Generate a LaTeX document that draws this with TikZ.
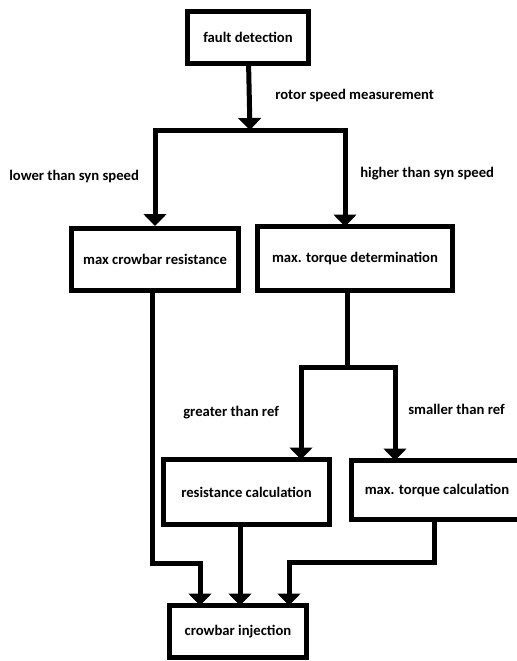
\documentclass[tikz,border=0pt]{standalone}
\usepackage{fontspec}
\setmainfont{Carlito}
\usetikzlibrary{arrows.meta}

\begin{document}
\begin{tikzpicture}
	[x=0.75pt, y=-0.75pt,
		containsText/.style  ={font=\fontsize{11}{13}\selectfont\bfseries
									},
		block/.style		={rectangle
									, containsText
									, draw
									, line width=3.75pt
									, align=center
									, inner sep=0pt
									},
		line/.style		 	={draw
									, line width=3.75pt
									},
		arrowline/.style	={line
									, -{Triangle[width=17pt,length=9pt]}
									},
		note/.style			={containsText
									, anchor=west
									, inner sep=0pt
									}
	]
\clip (0,0) rectangle (517,661);
	% boxes
	\node [block, minimum width=91pt, minimum height=39pt] (detect)		at (248,37.5)	{fault detection};
	\node [block, minimum width=125pt, minimum height=46.5pt] (maxres)	at (155,259.5)	{max crowbar resistance};
	\node [block, minimum width=146pt, minimum height=48pt] (torquedet)	at (355,258.5)	{max. torque determination};
	\node [block, minimum width=124.5pt, minimum height=49pt] (rescalc)	at (246.5,492)	{resistance calculation};
	\node [block, minimum width=128pt, minimum height=44pt] (torquecalc)	at (437,490)	{max. torque calculation};
	\node [block, minimum width=103pt, minimum height=39pt] (inject)	at (238,631.5)	{crowbar injection};

	% labels
	\node [note] (rotor label)		at (275,96)		{rotor speed measurement};
	\node [note] (lower label)		at (9,177)		{lower than syn speed};
	\node [note] (higher label)		at (360,174)	{higher than syn speed};
	\node [note] (greater label)	at (183,413)	{greater than ref};
	\node [note] (smaller label)	at (408,409)	{smaller than ref};

	% branch points
	\coordinate (rotor)		at (250,130);
	\coordinate (tdin)		at (345,226.5);
	\coordinate (tdout)		at (347,290.5);
	\coordinate (compare)	at (347,367);
	\coordinate (rcin)		at (301,459.5);
	\coordinate (tcin)		at (395,460.5);
	\coordinate (mrout)		at (152,290.5);
	\coordinate (rcout)		at (240,524.5);
	\coordinate (tcout)		at (434,519.5);
	\coordinate (in a)		at (200,605.5);
	\coordinate (in b)		at (240,605.5);
	\coordinate (in c)		at (289,605.5);

\begin{scope}[every path/.style=arrowline]
	\path	(detect)	-- (rotor);
	\path	(rotor)		-| (maxres);
	\path	(rotor)		-| (tdin);
	\path	(compare)	-| (rcin);
	\path	(compare)	-| (tcin);
	\path	(mrout)		-- ++(0,272.5) -| (in a);
	\path	(rcout)		-- (in b);
	\path	(tcout)		-- ++(0,42.5) -| (in c);
\end{scope}
	\path [line]	(tdout)	-- (compare);
\end{tikzpicture}
\end{document}
